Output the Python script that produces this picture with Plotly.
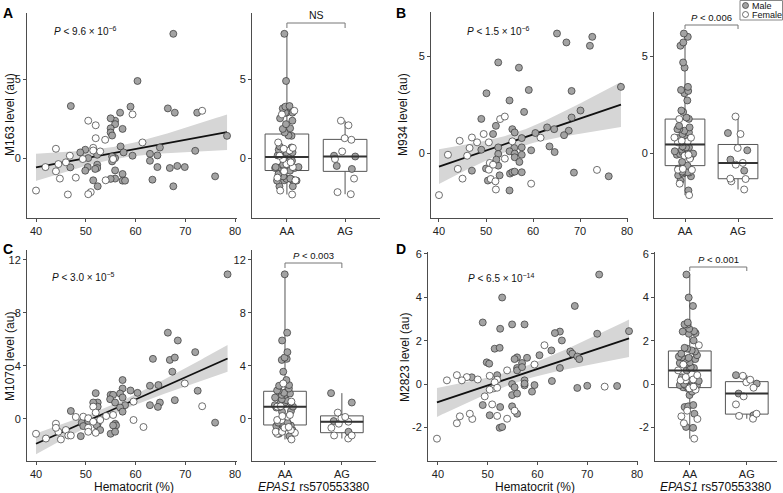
import numpy as np
import plotly.graph_objects as go

# ------------------------------------------------------------------ data
# Panel A (M163)
A_mAA_hct = [67.6,60.4,47.0,56.9,59.0,66.5,67.9,72.4,78.4,55.9,55.9,55.0,55.0,55.0,55.3,57.4,64.9,72.0,57.0,57.6,62.9,64.4,62.9,64.4,66.9,69.9,67.6,63.4,76.0,57.4,57.4,57.9,55.9,55.9,55.0,52.4,51.5,52.3,52.3,52.3,50.5,50.4,49.9,49.9,48.9,55.9,55.3,46.9]
A_mAA_lev = [7.88,4.89,3.30,2.88,3.26,3.15,2.88,2.88,1.41,2.37,2.15,2.52,1.89,1.62,1.43,1.85,0.67,0.46,0.74,0.36,0.27,0.17,-0.17,-0.57,-0.63,-0.57,-1.79,-1.37,-1.16,-1.01,-1.43,-1.43,-1.30,-0.78,-1.32,-1.79,-1.41,-0.42,-0.63,0.21,0.00,-0.57,-0.80,0.53,0.36,0.00,-0.21,-0.59]
A_mAG_hct = [55.3,59.4,68.4,51.9]
A_mAG_lev = [0.10,0.15,-0.50,-0.69]
A_fAA_hct = [59.4,73.4,61.4,51.5,51.5,55.5,46.8,44.0,44.0,41.9,44.5,46.0,48.0,40.0,46.4,54.0]
A_fAA_lev = [2.77,3.00,0.99,0.65,0.48,-0.06,0.15,0.59,-0.84,-0.57,-0.38,-0.27,-1.24,-2.06,-2.31,-1.41]
A_fAG_hct = [50.5,52.0,52.0,53.9,52.9,49.4,44.8,51.0,50.5]
A_fAG_lev = [2.37,2.08,1.26,1.16,0.42,-0.06,-1.30,-2.16,-2.29]
A_fit_hct = [40.0, 78.4]          # fitted line ends as drawn in the figure
A_fit_lev = [-0.59, 1.64]

# Panel B (M934)
B_mAA_hct = [65.1,72.6,67.1,72.1,52.6,57.0,78.7,59.1,68.2,50.1,55.0,70.1,58.1,49.0,52.1,68.2,63.0,64.5,55.6,56.1,67.6,66.6,51.5,52.6,57.6,57.6,56.0,55.0,49.0,63.5,64.6,52.6,56.1,56.1,57.6,57.1,52.6,50.0,50.4,52.9,55.1,55.6,56.1,57.6,68.7,76.1,55.0]
B_mAA_lev = [6.16,5.99,5.70,5.53,4.67,4.40,3.41,3.25,3.20,3.08,2.71,2.19,2.12,1.76,1.40,1.83,1.32,1.23,1.23,1.06,1.15,0.92,0.98,0.29,0.77,0.29,0.26,0.09,0.17,0.34,0.05,-0.05,-0.03,-0.22,-0.09,-0.46,-0.65,-0.80,-1.42,-1.15,-1.06,-0.99,-0.96,-0.99,-1.01,-1.20,-1.93]
B_mAG_hct = [60.5,59.6,52.2,47.0]
B_mAG_lev = [1.03,0.14,-0.34,-0.91]
B_fAA_hct = [53.0,61.6,47.0,44.4,48.1,50.6,55.6,41.9,46.0,54.0,44.0,50.6,59.6,73.6,40.0]
B_fAA_lev = [1.75,0.79,0.80,0.63,0.55,0.55,0.60,-0.09,-0.14,-0.29,-0.82,-0.86,-1.58,-0.87,-2.17]
B_fAG_hct = [54.0,49.5,46.5,50.8,51.5,45.0,51.0,52.0,52.1]
B_fAG_lev = [1.88,0.98,0.26,-0.51,-0.60,-1.32,-1.34,-1.46,-1.88]
B_fit_hct = [40.0, 78.7]
B_fit_lev = [-0.70, 2.50]

# Panel C (M1070)
C_mAA_hct = [78.5,66.5,68.5,72.0,63.5,66.9,67.9,67.4,57.4,62.9,64.6,57.4,59.0,72.5,60.4,55.0,55.5,56.9,57.4,54.9,55.9,52.4,57.9,52.4,56.9,62.9,64.9,64.5,67.9,57.4,47.0,49.2,52.4,52.2,52.9,55.9,56.1,55.5,76.0,49.0,55.0,49.5]
C_mAA_lev = [10.91,6.50,5.91,5.03,4.52,4.44,4.62,3.55,2.92,2.49,2.54,2.28,2.13,2.11,1.95,1.80,1.80,1.90,1.60,1.47,1.22,1.22,1.02,0.91,0.84,1.02,1.22,0.89,1.40,0.53,0.58,-0.30,-0.38,-0.51,-0.86,-0.38,-0.51,-0.51,-0.30,-1.32,-1.14,-0.56]
C_mAG_hct = [52.0,51.5,50.5,55.9]
C_mAG_lev = [1.93,1.22,-0.18,-0.99]
C_fAA_hct = [69.9,59.6,51.5,73.4,49.5,54.1,55.5,52.9,59.6,61.6,45.0,44.5,46.0,40.0,50.5,50.5,52.0]
C_fAA_lev = [2.66,1.29,0.91,0.94,0.15,0.20,0.28,-0.10,-0.10,-0.63,-1.57,-0.99,-0.86,-1.14,-0.69,-0.99,-1.07]
C_fAG_hct = [52.0,48.0,50.5,44.0,51.5,44.0,46.5,47.0,42.0]
C_fAG_lev = [0.46,0.13,0.03,-0.38,-0.23,-0.69,-1.27,-1.27,-1.50]
C_fit_hct = [40.0, 78.5]
C_fit_lev = [-1.90, 4.55]

# Panel D (M2823)
D_mAA_hct = [72.4,52.9,67.5,49.0,54.9,57.4,52.5,78.4,64.5,63.5,72.0,64.9,51.4,52.4,66.6,62.8,67.0,68.0,68.4,55.9,55.4,57.9,60.4,49.8,50.3,56.9,55.9,64.5,55.9,56.9,46.8,62.9,57.4,57.4,54.9,59.4,55.4,58.9,54.9,68.0,70.0,76.0,49.0,54.9,55.9,52.5,52.4,52.9]
D_mAA_lev = [5.05,3.99,3.60,2.84,2.75,2.75,2.55,2.44,2.42,2.35,2.32,2.01,1.63,1.67,1.50,1.55,1.40,1.27,1.15,1.23,1.15,1.21,1.33,1.00,0.94,0.97,0.74,0.74,0.63,0.78,0.31,0.14,0.17,-0.06,0.00,-0.05,-0.15,-0.35,-0.51,-0.18,-0.08,-0.09,-0.97,-1.03,-1.37,-1.06,-2.02,-1.98]
D_mAG_hct = [51.9,57.4,55.9,50.4]
D_mAG_lev = [0.41,0.02,-0.44,-1.44]
D_fAA_hct = [61.4,59.4,53.9,43.8,45.8,41.8,44.8,48.0,51.2,50.4,73.5,55.4,44.4,46.9,43.8,39.8]
D_fAA_lev = [1.79,0.90,0.63,0.41,0.32,0.17,0.17,0.21,-0.20,-0.26,-0.12,-1.23,-1.49,-1.61,-1.81,-2.52]
D_fAG_hct = [50.4,51.9,51.4,51.9,49.4,50.9,46.4,51.9,53.9]
D_fAG_lev = [0.38,0.20,0.08,-0.17,-0.57,-0.94,-1.37,-1.47,-1.60]
D_fit_hct = [39.8, 78.4]
D_fit_lev = [-0.85, 2.11]

genotypes = ["AA", "AG"]
y_titles = ["M163 level (au)", "M934 level (au)", "M1070 level (au)", "M2823 level (au)"]
p_scatter = ["9.6 × 10<sup>−6</sup>", "1.5 × 10<sup>−6</sup>", "3.0 × 10<sup>−5</sup>", "6.5 × 10<sup>−14</sup>"]
p_box = ["NS", "<i>P</i> &lt; 0.006", "<i>P</i> &lt; 0.003", "<i>P</i> &lt; 0.001"]
panel_letters = ["A", "B", "C", "D"]

# ------------------------------------------------------------------ style
W, H = 783, 493
FONT = "Liberation Sans, Arial, Helvetica, sans-serif"
GRAY = "#a3a3a3"
EDGE = "#333333"
AXC = "#4d4d4d"
MS = 7


def px(v):
    return v / W


def py(v):
    return 1 - v / H


def band(x, y, fx, fy):
    """Line as drawn in the figure; 95% confidence band from the data's spread around it."""
    x = np.asarray(x, float)
    y = np.asarray(y, float)
    n = len(x)
    b1 = (fy[1] - fy[0]) / (fx[1] - fx[0])
    b0 = fy[0] - b1 * fx[0]
    xs = np.linspace(fx[0], fx[1], 100)
    yh = b0 + b1 * xs
    r = y - (b0 + b1 * x)
    s = np.sqrt((r ** 2).sum() / (n - 2))
    sxx = ((x - x.mean()) ** 2).sum()
    se = s * np.sqrt(1 / n + (xs - x.mean()) ** 2 / sxx)
    t = 1.99
    return xs, yh, yh - t * se, yh + t * se


panels = [
    dict(d=(A_mAA_hct, A_mAA_lev, A_mAG_hct, A_mAG_lev, A_fAA_hct, A_fAA_lev, A_fAG_hct, A_fAG_lev),
         fit=(A_fit_hct, A_fit_lev),
         sx="x", sy="y", bx="x2", by="y2",
         sdom=[27, 237], bdom=[252, 380], ydom=[13, 218],
         xr=[38.19, 80.4], yr=[-3.8, 9.2], bxr=[-0.6, 1.6], yt=[0, 5],
         ytitle=(10, 115), ptxt=(52, 31), letter=(8, 13), brk=(23, 28), xt=False),
    dict(d=(B_mAA_hct, B_mAA_lev, B_mAG_hct, B_mAG_lev, B_fAA_hct, B_fAA_lev, B_fAG_hct, B_fAG_lev),
         fit=(B_fit_hct, B_fit_lev),
         sx="x3", sy="y3", bx="x4", by="y4",
         sdom=[431, 628], bdom=[654, 773], ydom=[12, 218],
         xr=[38.3, 80.2], yr=[-3.35, 7.27], bxr=[-0.585, 1.66], yt=[0, 5],
         ytitle=(403, 115), ptxt=(465, 31), letter=(401, 13), brk=(25, 29), xt=False),
    dict(d=(C_mAA_hct, C_mAA_lev, C_mAG_hct, C_mAG_lev, C_fAA_hct, C_fAA_lev, C_fAG_hct, C_fAG_lev),
         fit=(C_fit_hct, C_fit_lev),
         sx="x5", sy="y5", bx="x6", by="y6",
         sdom=[27, 237], bdom=[252, 376], ydom=[250, 461],
         xr=[38.19, 80.4], yr=[-3.2, 12.75], bxr=[-0.58, 1.6], yt=[0, 4, 8, 12],
         ytitle=(10, 357), ptxt=(50, 277), letter=(8, 249), brk=(263, 268), xt=True),
    dict(d=(D_mAA_hct, D_mAA_lev, D_mAG_hct, D_mAG_lev, D_fAA_hct, D_fAA_lev, D_fAG_hct, D_fAG_lev),
         fit=(D_fit_hct, D_fit_lev),
         sx="x7", sy="y7", bx="x8", by="y8",
         sdom=[428, 638], bdom=[655, 777], ydom=[252, 461],
         xr=[38.0, 80.2], yr=[-3.55, 6.09], bxr=[-0.61, 1.53], yt=[-2, 0, 2, 4, 6],
         ytitle=(405, 358), ptxt=(466, 278), letter=(401, 249), brk=(267, 271), xt=True),
]

fig = go.Figure()
annotations = []
shapes = []


def ann(text, x, y, size, xanchor="center", yanchor="middle", angle=0, color="#111", xref="paper"):
    return dict(text=text, x=x, y=y, xref=xref, yref="paper", xanchor=xanchor, yanchor=yanchor,
                textangle=angle, showarrow=False, font=dict(family=FONT, size=size, color=color))


def axis_common():
    return dict(showline=True, linecolor=AXC, linewidth=1, ticks="outside", ticklen=3,
                tickcolor=AXC, tickwidth=1, showgrid=False, zeroline=False, automargin=False,
                tickfont=dict(family=FONT, size=11, color="#222"))


layout_axes = {}
for i, p in enumerate(panels):
    mh, ml, gh, gl, fh, fl, fgh, fgl = p["d"]
    male_h = mh + gh
    male_l = ml + gl
    fem_h = fh + fgh
    fem_l = fl + fgl
    all_h = male_h + fem_h
    all_l = male_l + fem_l

    # ---------- scatter with regression
    xs, yh, lo, hi = band(all_h, all_l, *p["fit"])
    fig.add_trace(go.Scatter(x=np.concatenate([xs, xs[::-1]]), y=np.concatenate([hi, lo[::-1]]),
                             fill="toself", fillcolor="#d6d6d6", line=dict(width=0),
                             mode="lines", xaxis=p["sx"], yaxis=p["sy"], showlegend=False,
                             hoverinfo="skip"))
    fig.add_trace(go.Scatter(x=p["fit"][0], y=p["fit"][1], mode="lines", line=dict(color="#111", width=1.8),
                             xaxis=p["sx"], yaxis=p["sy"], showlegend=False))
    fig.add_trace(go.Scatter(x=male_h, y=male_l, mode="markers",
                             marker=dict(size=MS, color=GRAY, line=dict(color=EDGE, width=0.7)),
                             xaxis=p["sx"], yaxis=p["sy"], showlegend=False))
    fig.add_trace(go.Scatter(x=fem_h, y=fem_l, mode="markers",
                             marker=dict(size=MS, color="white", line=dict(color=EDGE, width=0.7)),
                             xaxis=p["sx"], yaxis=p["sy"], showlegend=False))

    # ---------- box plots
    groups = {"AA": (ml, fl), "AG": (gl, fgl)}
    for gi, g in enumerate(genotypes):
        mv, fv = groups[g]
        vals = mv + fv
        fig.add_trace(go.Box(y=vals, x=[g] * len(vals), boxpoints=False, width=0.75,
                             whiskerwidth=0, line=dict(color="#555", width=1),
                             fillcolor="rgba(255,255,255,0)", xaxis=p["bx"], yaxis=p["by"],
                             showlegend=False))
        med = float(np.median(vals))
        shapes.append(dict(type="line", xref=p["bx"], yref=p["by"], x0=gi - 0.375, x1=gi + 0.375,
                           y0=med, y1=med, line=dict(color="#333", width=2)))
    for gi, g in enumerate(genotypes):
        mv, fv = groups[g]
        for vals, col in ((mv, GRAY), (fv, "white")):
            fig.add_trace(go.Box(y=vals, x=[g] * len(vals), boxpoints="all", jitter=0.6, pointpos=0,
                                 width=0.75, whiskerwidth=0, line=dict(width=0, color="rgba(0,0,0,0)"),
                                 fillcolor="rgba(0,0,0,0)",
                                 marker=dict(size=MS, color=col, line=dict(color=EDGE, width=0.7)),
                                 xaxis=p["bx"], yaxis=p["by"], showlegend=False))

    n = "" if i == 0 else str(2 * i + 1)
    nb = str(2 * i + 2)
    ydom = [py(p["ydom"][1]), py(p["ydom"][0])]
    ticktext = [str(v) for v in p["yt"]]
    xa = axis_common()
    xa.update(domain=[px(p["sdom"][0]), px(p["sdom"][1])], range=p["xr"], anchor=p["sy"],
              tickvals=[40, 50, 60, 70, 80])
    ya = axis_common()
    ya.update(domain=ydom, range=p["yr"], anchor=p["sx"], tickvals=p["yt"], ticktext=ticktext)
    xb = axis_common()
    xb.update(domain=[px(p["bdom"][0]), px(p["bdom"][1])], range=p["bxr"], anchor=p["by"],
              type="category", categoryorder="array", categoryarray=genotypes)
    yb = axis_common()
    yb.update(domain=ydom, range=p["yr"], anchor=p["bx"], tickvals=p["yt"], ticktext=ticktext)
    layout_axes["xaxis" + n] = xa
    layout_axes["yaxis" + n] = ya
    layout_axes["xaxis" + nb] = xb
    layout_axes["yaxis" + nb] = yb

    # ---------- texts
    annotations.append(ann(y_titles[i], px(p["ytitle"][0]), py(p["ytitle"][1]), 12, angle=-90))
    annotations.append(ann("<i>P</i> &lt; " + p_scatter[i], px(p["ptxt"][0]), py(p["ptxt"][1]), 10,
                           xanchor="left"))
    annotations.append(ann("<b>" + panel_letters[i] + "</b>", px(p["letter"][0]), py(p["letter"][1]), 14,
                           color="#000"))
    # bracket
    yb0, yb1 = py(p["brk"][0]), py(p["brk"][1])
    for x0, x1, y0, y1 in ((0, 1, yb0, yb0), (0, 0, yb0, yb1), (1, 1, yb0, yb1)):
        shapes.append(dict(type="line", xref=p["bx"], yref="paper", x0=x0, x1=x1, y0=y0, y1=y1,
                           line=dict(color="#777", width=1)))
    annotations.append(ann(p_box[i], 0.5, yb0, 10.5 if i == 0 else 9.5, yanchor="bottom", xref=p["bx"]))
    if p["xt"]:
        cx_s = (p["sdom"][0] + p["sdom"][1]) / 2 + 2
        cx_b = (p["bdom"][0] + p["bdom"][1]) / 2
        annotations.append(ann("Hematocrit (%)", px(cx_s), py(486.5), 12))
        annotations.append(ann("<i>EPAS1</i> rs570553380", px(cx_b), py(486.5), 12))

# ---------- manual legend (top right)
shapes.append(dict(type="rect", xref="paper", yref="paper", x0=px(740), x1=px(782.5), y0=py(20), y1=py(0.5),
                   line=dict(color="#888", width=1), fillcolor="white"))
for j, (lab, col) in enumerate((("Male", GRAY), ("Female", "white"))):
    cy = 5.5 + 9 * j
    shapes.append(dict(type="circle", xref="paper", yref="paper", x0=px(742.5), x1=px(748.5),
                       y0=py(cy + 3), y1=py(cy - 3), fillcolor=col, line=dict(color=EDGE, width=0.7)))
    annotations.append(ann(lab, px(750), py(cy), 9, xanchor="left"))

fig.update_layout(width=W, height=H, margin=dict(l=0, r=0, t=0, b=0, pad=0, autoexpand=False),
                  paper_bgcolor="white",
                  plot_bgcolor="white", showlegend=False, boxmode="overlay",
                  annotations=annotations, shapes=shapes, font=dict(family=FONT), **layout_axes)

fig.write_html("out.html", config={"displayModeBar": False},
               post_script="document.body.style.margin='0px';")
